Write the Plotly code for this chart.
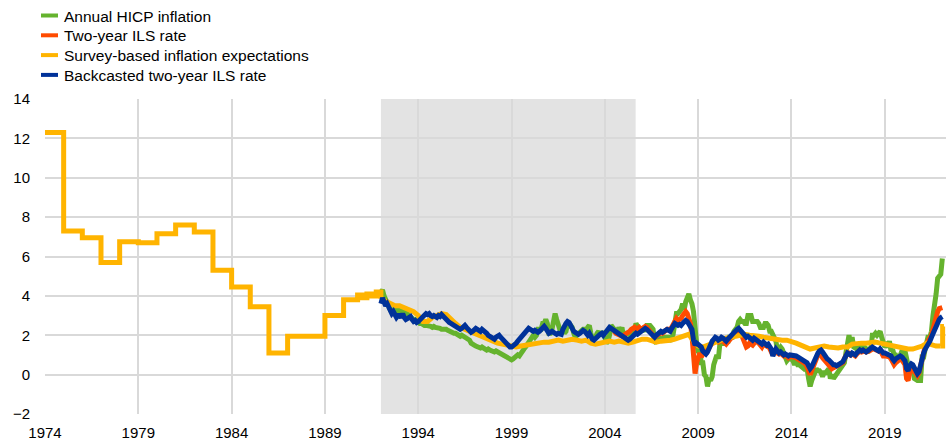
import plotly.graph_objects as go

# ---------------------------------------------------------------------------
# Data (percentages per annum)
# ---------------------------------------------------------------------------

# Annual HICP inflation, monthly from Jan 1992 to Feb 2022
hicp_start = 1992.0
hicp = [
    4.2, 4.3, 4.0, 3.8, 3.6, 3.4, 3.3, 3.3, 3.2, 3.3, 3.2, 3.2,   # 1992
    3.3, 3.3, 3.2, 3.2, 3.1, 3.1, 3.0, 2.9, 2.9, 2.8, 2.8, 2.7,   # 1993
    2.7, 2.6, 2.6, 2.5, 2.5, 2.5, 2.5, 2.5, 2.45, 2.4, 2.45, 2.4,  # 1994
    2.4, 2.4, 2.35, 2.3, 2.3, 2.35, 2.3, 2.25, 2.2, 2.2, 2.15, 2.1,  # 1995
    2.1, 2.05, 2.0, 1.95, 2.0, 1.95, 1.9, 1.85, 1.8, 1.75, 1.6, 1.5,  # 1996
    1.5, 1.45, 1.4, 1.35, 1.35, 1.4, 1.3, 1.3, 1.25, 1.3, 1.25, 1.2,  # 1997
    1.2, 1.15, 1.2, 1.15, 1.1, 1.05, 1.0, 0.95, 0.9, 0.85, 0.8, 0.8,  # 1998
    0.75, 0.8, 0.9, 1.0, 1.0, 0.95, 1.1, 1.2, 1.3, 1.4, 1.5, 1.7,   # 1999
    1.8, 1.9, 2.0, 1.9, 2.0, 2.3, 2.3, 2.3, 2.6, 2.6, 2.8, 2.6,     # 2000
    2.1, 2.1, 2.3, 2.8, 3.1, 2.8, 2.5, 2.3, 2.2, 2.3, 2.1, 2.2,     # 2001
    2.6, 2.4, 2.5, 2.4, 2.1, 1.9, 2.0, 2.1, 2.1, 2.3, 2.3, 2.3,     # 2002
    2.2, 2.4, 2.5, 2.1, 1.8, 1.9, 1.9, 2.1, 2.2, 2.0, 2.2, 2.0,     # 2003
    1.9, 1.6, 1.7, 2.0, 2.5, 2.4, 2.3, 2.3, 2.1, 2.4, 2.2, 2.4,     # 2004
    1.9, 2.1, 2.1, 2.1, 2.0, 2.1, 2.2, 2.2, 2.6, 2.5, 2.3, 2.2,     # 2005
    2.4, 2.3, 2.2, 2.5, 2.5, 2.5, 2.4, 2.3, 1.7, 1.6, 1.9, 1.9,     # 2006
    1.8, 1.8, 1.9, 1.9, 1.9, 1.9, 1.8, 1.7, 2.1, 2.6, 3.1, 3.1,     # 2007
    3.2, 3.3, 3.6, 3.3, 3.7, 4.0, 4.1, 3.8, 3.6, 3.2, 2.1, 1.6,     # 2008
    1.1, 1.2, 0.6, 0.6, 0.0, -0.1, -0.6, -0.2, -0.3, -0.1, 0.5, 0.9,  # 2009
    1.0, 0.8, 1.6, 1.6, 1.7, 1.5, 1.7, 1.6, 1.9, 1.9, 1.9, 2.2,     # 2010
    2.3, 2.4, 2.7, 2.8, 2.7, 2.7, 2.6, 2.6, 3.0, 3.0, 3.0, 2.7,     # 2011
    2.7, 2.7, 2.7, 2.6, 2.4, 2.4, 2.4, 2.6, 2.6, 2.5, 2.2, 2.2,     # 2012
    2.0, 1.8, 1.7, 1.2, 1.3, 1.4, 1.3, 1.1, 1.0, 0.7, 0.8, 0.8,     # 2013
    0.8, 0.7, 0.5, 0.7, 0.5, 0.5, 0.4, 0.4, 0.3, 0.4, 0.3, -0.2,    # 2014
    -0.6, -0.3, -0.1, 0.0, 0.3, 0.2, 0.2, 0.1, -0.1, 0.1, 0.1, 0.2,  # 2015
    0.3, -0.2, 0.0, -0.2, -0.1, 0.1, 0.2, 0.2, 0.4, 0.5, 0.6, 1.1,  # 2016
    1.7, 2.0, 1.5, 1.9, 1.4, 1.3, 1.3, 1.5, 1.5, 1.4, 1.5, 1.4,     # 2017
    1.3, 1.1, 1.4, 1.2, 2.0, 2.0, 2.1, 2.0, 2.1, 2.2, 1.9, 1.5,     # 2018
    1.4, 1.5, 1.4, 1.7, 1.2, 1.3, 1.0, 1.0, 0.8, 0.7, 1.0, 1.3,     # 2019
    1.4, 1.2, 0.7, 0.3, 0.1, 0.3, 0.4, -0.2, -0.3, -0.3, -0.3, -0.3,  # 2020
    0.9, 0.9, 1.3, 1.6, 2.0, 1.9, 2.2, 3.0, 3.4, 4.1, 4.9, 5.0,     # 2021
    5.1, 5.9,                                                       # 2022
]

# Two-year inflation-linked swap rate, monthly from Jun 2004 to Feb 2022
ils_start = 2004 + 5 / 12
ils = [
    2.2, 2.2, 2.1, 2.05, 2.0, 2.0, 1.95,                            # 2004
    2.0, 2.05, 2.1, 2.1, 2.2, 2.3, 2.35, 2.4, 2.3, 2.35, 2.4, 2.3,  # 2005
    2.3, 2.4, 2.45, 2.4, 2.3, 2.2, 2.1, 2.0, 1.9, 1.95, 2.05, 2.1,  # 2006
    2.15, 2.1, 2.2, 2.25, 2.3, 2.3, 2.2, 2.4, 2.6, 2.8, 2.85, 2.75,  # 2007
    2.8, 2.85, 3.0, 3.1, 3.2, 3.1, 2.9, 2.6, 2.0, 0.4, 0.05, 0.6,   # 2008
    0.8, 1.1, 0.9, 1.0, 1.2, 1.3, 1.2, 1.4, 1.5, 1.6, 1.7, 1.75,    # 2009
    1.7, 1.65, 1.7, 1.75, 1.7, 1.6, 1.55, 1.65, 1.75, 1.8, 1.9, 2.0,  # 2010
    2.1, 2.2, 2.3, 2.2, 2.0, 1.8, 1.6, 1.4, 1.45, 1.6, 1.55, 1.5,   # 2011
    1.6, 1.7, 1.7, 1.6, 1.45, 1.4, 1.55, 1.5, 1.45, 1.5, 1.3, 1.2,  # 2012
    1.0, 1.2, 1.25, 1.1, 1.05, 1.1, 1.0, 0.95, 1.0, 0.9, 0.85, 0.9,  # 2013
    0.95, 0.9, 0.9, 0.85, 0.8, 0.75, 0.7, 0.65, 0.6, 0.55, 0.4, 0.15,  # 2014
    0.0, 0.2, 0.45, 0.7, 0.9, 1.0, 1.05, 1.0, 0.85, 0.75, 0.7, 0.55,  # 2015
    0.45, 0.35, 0.3, 0.35, 0.4, 0.4, 0.45, 0.5, 0.55, 0.6, 0.8, 1.0,  # 2016
    1.1, 1.1, 1.0, 1.05, 1.0, 0.95, 1.05, 1.15, 1.2, 1.15, 1.2, 1.2,  # 2017
    1.15, 1.15, 1.2, 1.25, 1.35, 1.3, 1.25, 1.2, 1.2, 1.25, 1.1, 0.95,  # 2018
    0.95, 0.95, 0.9, 0.9, 0.8, 0.6, 0.5, 0.6, 0.65, 0.7, 0.8, 0.75,  # 2019
    0.6, 0.5, -0.2, -0.3, 0.1, 0.25, 0.3, 0.15, 0.0, -0.05, 0.1, 0.45,  # 2020
    0.9, 1.2, 1.45, 1.6, 1.7, 1.85, 2.0, 2.3, 2.6, 3.0, 3.2, 3.35,  # 2021
    3.4, 3.4,                                                       # 2022
]

# Survey-based inflation expectations, part 1: stepwise readings up to 1992
survey_step_x = [
    1974, 1975, 1976, 1977, 1978, 1979, 1980, 1981, 1982, 1983,
    1984, 1985, 1986, 1987, 1988, 1989, 1990, 1990.75,
    1991.0, 1991.25, 1991.5, 1991.75, 1992.0,
]
survey_step = [
    12.3, 7.3, 6.95, 5.7, 6.75, 6.7, 7.15, 7.6, 7.25, 5.3,
    4.45, 3.45, 1.1, 1.95, 1.95, 3.0, 3.8, 4.05,
    3.9, 4.1, 4.0, 4.2, 3.85,
]

# Survey-based inflation expectations, part 2: quarterly readings from 1992
survey_q_start = 1992.0
survey_q = [
    3.85, 3.75, 3.6, 3.5, 3.5, 3.4, 3.25, 3.2,        # 1992-1993
    3.0, 2.7, 2.7, 2.9, 3.0, 3.1, 3.05, 2.8,          # 1994-1995
    2.6, 2.4, 2.3, 2.15, 2.05, 2.0, 1.9, 1.75,        # 1996-1997
    1.65, 1.6, 1.55, 1.5, 1.45, 1.4, 1.45, 1.5,       # 1998-1999
    1.5, 1.55, 1.6, 1.65, 1.65, 1.7, 1.75, 1.7,       # 2000-2001
    1.75, 1.8, 1.75, 1.7, 1.75, 1.6, 1.55, 1.6,       # 2002-2003
    1.65, 1.7, 1.65, 1.7, 1.65, 1.6, 1.65, 1.75,      # 2004-2005
    1.8, 1.8, 1.7, 1.65, 1.7, 1.7, 1.75, 1.8,         # 2006-2007
    1.9, 2.0, 2.05, 1.7, 1.45, 1.4, 1.5, 1.6,         # 2008-2009
    1.7, 1.8, 1.85, 1.9, 1.95, 2.0, 2.05, 2.0,        # 2010-2011
    2.0, 1.95, 1.9, 1.85, 1.8, 1.8, 1.75, 1.75,       # 2012-2013
    1.7, 1.6, 1.5, 1.4, 1.3, 1.35, 1.4, 1.45,         # 2014-2015
    1.4, 1.35, 1.35, 1.4, 1.4, 1.55, 1.6, 1.6,        # 2016-2017
    1.6, 1.65, 1.65, 1.6, 1.55, 1.45, 1.4, 1.35,      # 2018-2019
    1.35, 1.3, 1.3, 1.35, 1.45, 1.6, 1.5, 1.45,       # 2020-2021
    1.45,                                             # 2022 Q1
]
# latest survey round (early 2022)
survey_last_x = [2022.0, 2022.1, 2022.17]
survey_last = [1.45, 2.45, 2.45]

# Backcasted two-year ILS rate, monthly from Jan 1992 to Feb 2022
backcast_start = 1992.0
backcast = [
    3.6, 3.9, 3.7, 3.5, 3.6, 3.4, 3.2, 3.1, 3.2, 3.0, 2.9, 3.0,     # 1992
    3.0, 2.9, 3.1, 2.9, 2.8, 2.85, 2.9, 2.95, 2.8, 2.7, 2.75, 2.65,  # 1993
    2.7, 2.8, 2.85, 2.9, 3.0, 3.1, 3.05, 3.1, 3.0, 2.95, 3.0, 2.9,  # 1994
    2.9, 3.0, 2.95, 3.05, 2.95, 2.9, 2.8, 2.7, 2.65, 2.6, 2.55, 2.5,  # 1995
    2.5, 2.45, 2.4, 2.3, 2.35, 2.45, 2.5, 2.4, 2.3, 2.2, 2.15, 2.2,  # 1996
    2.3, 2.35, 2.3, 2.25, 2.2, 2.3, 2.25, 2.2, 2.1, 2.0, 1.95, 1.9,  # 1997
    1.85, 1.8, 1.9, 1.95, 2.0, 1.9, 1.8, 1.7, 1.65, 1.5, 1.45, 1.4,  # 1998
    1.4, 1.45, 1.5, 1.6, 1.7, 1.8, 1.9, 2.0, 2.1, 2.2, 2.3, 2.35,   # 1999
    2.3, 2.25, 2.2, 2.25, 2.2, 2.15, 2.2, 2.3, 2.4, 2.45, 2.35, 2.2,  # 2000
    2.1, 2.15, 2.2, 2.15, 2.1, 2.05, 2.1, 2.1, 2.05, 2.3, 2.5, 2.6,  # 2001
    2.7, 2.65, 2.5, 2.3, 2.2, 2.15, 2.1, 2.05, 2.1, 2.2, 2.25, 2.2,  # 2002
    2.05, 2.0, 2.1, 1.9, 1.8, 1.75, 1.85, 1.95, 2.0, 2.05, 2.1, 2.0,  # 2003
    2.1, 2.2, 2.35, 2.4, 2.35, 2.3, 2.25, 2.15, 2.1, 2.05, 2.0, 1.95,  # 2004
    1.9, 1.85, 1.8, 1.75, 1.8, 1.9, 2.0, 2.05, 2.1, 2.05, 2.1, 2.2,  # 2005
    2.2, 2.3, 2.35, 2.3, 2.2, 2.1, 2.05, 1.95, 1.9, 2.0, 2.1, 2.15,  # 2006
    2.2, 2.15, 2.2, 2.25, 2.3, 2.25, 2.2, 2.35, 2.5, 2.6, 2.55, 2.5,  # 2007
    2.55, 2.5, 2.6, 2.7, 2.75, 2.7, 2.6, 2.5, 2.3, 1.75, 1.5, 1.6,  # 2008
    1.55, 1.45, 1.4, 1.2, 1.1, 1.05, 1.15, 1.4, 1.5, 1.7, 1.8, 1.9,  # 2009
    1.85, 1.75, 1.8, 1.9, 1.85, 1.75, 1.7, 1.8, 1.9, 1.95, 2.0, 2.1,  # 2010
    2.2, 2.3, 2.35, 2.25, 2.1, 2.0, 1.95, 1.9, 1.95, 1.9, 1.8, 1.75,  # 2011
    1.85, 1.8, 1.75, 1.7, 1.6, 1.55, 1.65, 1.6, 1.5, 1.55, 1.4, 1.3,  # 2012
    0.95, 1.2, 1.3, 1.2, 1.1, 1.15, 1.05, 1.0, 1.05, 1.0, 0.95, 1.0,  # 2013
    1.0, 0.95, 1.0, 0.95, 0.9, 0.85, 0.8, 0.8, 0.75, 0.7, 0.6, 0.45,  # 2014
    0.3, 0.4, 0.6, 0.8, 1.0, 1.1, 1.2, 1.25, 1.15, 1.0, 0.9, 0.8,   # 2015
    0.75, 0.65, 0.55, 0.5, 0.5, 0.45, 0.5, 0.55, 0.6, 0.65, 0.8, 1.0,  # 2016
    1.1, 1.05, 1.0, 1.1, 1.05, 1.0, 1.1, 1.2, 1.25, 1.2, 1.25, 1.2,  # 2017
    1.15, 1.2, 1.25, 1.3, 1.4, 1.35, 1.3, 1.25, 1.2, 1.3, 1.15, 1.1,  # 2018
    1.1, 1.05, 1.0, 1.0, 0.95, 0.8, 0.7, 0.8, 0.85, 0.9, 0.95, 0.9,  # 2019
    0.75, 0.7, 0.3, 0.2, 0.45, 0.55, 0.5, 0.35, 0.1, 0.05, 0.15, 0.5,  # 2020
    0.9, 1.1, 1.3, 1.4, 1.5, 1.7, 1.9, 2.1, 2.3, 2.5, 2.65, 2.8,    # 2021
    2.9, 2.95,                                                      # 2022
]

# Shaded period (backcast estimation window)
shade_from, shade_to = 1992.0, 2005.65

# Axis ticks
x_ticks = [1974, 1979, 1984, 1989, 1994, 1999, 2004, 2009, 2014, 2019]
x_ticktext = [str(y) for y in x_ticks]
y_ticks = [-2, 0, 2, 4, 6, 8, 10, 12, 14]

# ---------------------------------------------------------------------------
# Styling
# ---------------------------------------------------------------------------
GREEN = "#65b32e"
RED = "#ff4b00"
YELLOW = "#ffb400"
BLUE = "#003299"
GRID = "#d9d9d9"
SHADE = "#e3e3e3"
FONT = "Liberation Sans, Arial, sans-serif"
LW = 5

W, H = 946, 444
M_L, M_R, M_T, M_B = 45, 0, 99, 30


def monthly(start, values):
    return [start + i / 12 for i in range(len(values))]


def quarterly(start, values):
    return [start + i / 4 for i in range(len(values))]


fig = go.Figure()

fig.add_trace(go.Scatter(x=monthly(hicp_start, hicp), y=hicp, mode="lines",
                         name="Annual HICP inflation",
                         line=dict(color=GREEN, width=LW)))
fig.add_trace(go.Scatter(x=monthly(ils_start, ils), y=ils, mode="lines",
                         name="Two-year ILS rate",
                         line=dict(color=RED, width=LW)))
survey_line = dict(color=YELLOW, width=LW)
fig.add_trace(go.Scatter(x=survey_step_x, y=survey_step, mode="lines",
                         name="Survey-based inflation expectations",
                         line=dict(survey_line, shape="hv")))
fig.add_trace(go.Scatter(x=quarterly(survey_q_start, survey_q), y=survey_q,
                         mode="lines", showlegend=False, line=survey_line))
fig.add_trace(go.Scatter(x=survey_last_x, y=survey_last, mode="lines",
                         showlegend=False, line=dict(survey_line, shape="hv")))
fig.add_trace(go.Scatter(x=monthly(backcast_start, backcast), y=backcast,
                         mode="lines", name="Backcasted two-year ILS rate",
                         line=dict(color=BLUE, width=LW)))

fig.add_shape(type="rect", xref="x", yref="y", x0=shade_from, x1=shade_to,
              y0=y_ticks[0], y1=y_ticks[-1], fillcolor=SHADE,
              line=dict(width=0), layer="below")

# Legend drawn as short colour bars with labels above the plot area
plot_w = W - M_L - M_R
plot_h = H - M_T - M_B


def px_x(px):
    return (px - M_L) / plot_w


def px_y(py):
    return (H - M_B - py) / plot_h


legend_items = [
    ("Annual HICP inflation", GREEN),
    ("Two-year ILS rate", RED),
    ("Survey-based inflation expectations", YELLOW),
    ("Backcasted two-year ILS rate", BLUE),
]
for i, (label, color) in enumerate(legend_items):
    cy = 15.5 + 19.8 * i
    fig.add_shape(type="line", xref="paper", yref="paper",
                  x0=px_x(41), x1=px_x(58), y0=px_y(cy), y1=px_y(cy),
                  line=dict(color=color, width=4))
    fig.add_annotation(xref="paper", yref="paper", x=px_x(62), y=px_y(cy + 0.5),
                       text=label, showarrow=False, xanchor="left",
                       yanchor="middle",
                       font=dict(family=FONT, size=15.5, color="#000000"))

fig.update_layout(
    width=W, height=H,
    margin=dict(l=M_L, r=M_R, t=M_T, b=M_B, pad=0),
    plot_bgcolor="white", paper_bgcolor="white",
    showlegend=False,
    font=dict(family=FONT, size=15, color="#000000"),
)
fig.update_xaxes(range=[1974, 2022.28], tickmode="array", tickvals=x_ticks,
                 ticktext=x_ticktext, showgrid=True, gridcolor=GRID,
                 gridwidth=1.5, zeroline=False, showline=False,
                 ticks="outside", ticklen=5, tickcolor="rgba(0,0,0,0)")
fig.update_yaxes(range=[-2, 14], tickmode="array", tickvals=y_ticks,
                 showgrid=True, gridcolor=GRID, gridwidth=1.5,
                 zeroline=False, showline=False,
                 ticks="outside", ticklen=11, tickcolor="rgba(0,0,0,0)")

fig.write_html("out.html")
